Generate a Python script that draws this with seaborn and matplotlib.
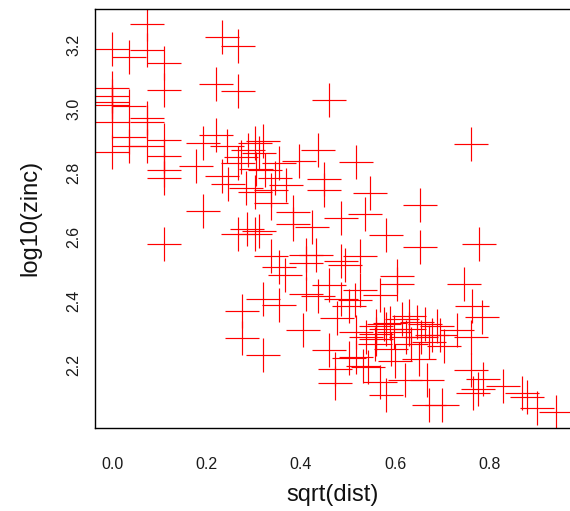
import matplotlib
matplotlib.use("Agg")
import matplotlib.pyplot as plt
import seaborn as sns
import pandas as pd

sqrt_dist = [
    0.073, 0.000, 0.036, 0.073, 0.110, 0.232, 0.266, 0.219, 0.266, 0.110,
    0.460, 0.000, 0.000, 0.000, 0.000, 0.000, 0.000, 0.036, 0.036, 0.036,
    0.073, 0.073, 0.073, 0.110, 0.110, 0.110, 0.110, 0.110, 0.178, 0.193,
    0.193, 0.219, 0.243, 0.233, 0.245, 0.266, 0.272, 0.284, 0.303, 0.287,
    0.303, 0.320, 0.312, 0.323, 0.305, 0.353, 0.345, 0.369, 0.337, 0.337,
    0.397, 0.436, 0.448, 0.448, 0.516, 0.547, 0.383, 0.383, 0.424, 0.484,
    0.537, 0.581, 0.652, 0.652, 0.760, 0.777, 0.746, 0.266, 0.285, 0.303,
    0.312, 0.337, 0.353, 0.367, 0.410, 0.431, 0.411, 0.484, 0.494, 0.526,
    0.603, 0.603, 0.460, 0.320, 0.353, 0.275, 0.275, 0.320, 0.404, 0.411,
    0.436, 0.526, 0.486, 0.514, 0.477, 0.501, 0.567, 0.460, 0.473, 0.472,
    0.501, 0.543, 0.581, 0.567, 0.600, 0.621, 0.763, 0.785, 0.615, 0.588,
    0.560, 0.581, 0.517, 0.560, 0.655, 0.560, 0.672, 0.557, 0.703, 0.630,
    0.647, 0.664, 0.688, 0.731, 0.760, 0.538, 0.598, 0.623, 0.630, 0.679,
    0.516, 0.531, 0.668, 0.651, 0.760, 0.787, 0.775, 0.764, 0.829, 0.868,
    0.880, 0.901, 0.940, 0.672, 0.700, 0.577, 0.634, 0.592, 0.694,
]

log10_zinc = [
    3.265, 3.188, 3.163, 3.185, 3.143, 3.225, 3.198, 3.077, 3.057, 3.059,
    3.027, 3.067, 3.040, 3.023, 3.014, 2.958, 2.867, 3.009, 2.912, 2.883,
    2.971, 2.959, 2.883, 2.904, 2.853, 2.809, 2.783, 2.579, 2.821, 2.894,
    2.682, 2.920, 2.884, 2.792, 2.766, 2.830, 2.849, 2.752, 2.741, 2.873,
    2.894, 2.899, 2.861, 2.810, 2.812, 2.832, 2.785, 2.761, 2.747, 2.707,
    2.837, 2.873, 2.780, 2.748, 2.834, 2.738, 2.679, 2.641, 2.631, 2.660,
    2.672, 2.607, 2.701, 2.568, 2.891, 2.579, 2.454, 2.610, 2.625, 2.610,
    2.619, 2.542, 2.507, 2.481, 2.545, 2.544, 2.519, 2.526, 2.511, 2.540,
    2.477, 2.454, 2.451, 2.407, 2.387, 2.369, 2.284, 2.230, 2.310, 2.423,
    2.416, 2.433, 2.405, 2.402, 2.346, 2.385, 2.418, 2.248, 2.189, 2.143,
    2.223, 2.195, 2.106, 2.148, 2.212, 2.154, 2.385, 2.350, 2.344, 2.332,
    2.321, 2.313, 2.302, 2.297, 2.287, 2.282, 2.273, 2.266, 2.259, 2.354,
    2.334, 2.329, 2.321, 2.310, 2.287, 2.288, 2.303, 2.288, 2.313, 2.294,
    2.224, 2.197, 2.153, 2.219, 2.185, 2.157, 2.125, 2.111, 2.133, 2.114,
    2.100, 2.067, 2.052, 2.075, 2.075, 2.327, 2.266, 2.250, 2.294,
]

x_ticks = [0.0, 0.2, 0.4, 0.6, 0.8]
y_ticks = [2.2, 2.4, 2.6, 2.8, 3.0, 3.2]

df = pd.DataFrame({"sqrt(dist)": sqrt_dist, "log10(zinc)": log10_zinc})

sns.set_style("white")
plt.rcParams["font.family"] = ["Liberation Sans", "DejaVu Sans"]

fig = plt.figure(figsize=(5.70, 5.11), dpi=100)
ax = fig.add_axes([94.7 / 570, 1 - 427.7 / 511, 1 - 94.7 / 570, (427.7 - 9) / 511])

sns.scatterplot(data=df, x="sqrt(dist)", y="log10(zinc)", ax=ax,
                marker="+", s=24 ** 2, color="#ff0000", linewidth=0.85,
                legend=False)

ax.set_xlim(-0.0373, 0.9707)
ax.set_ylim(2.004, 3.3125)
ax.set_xticks(x_ticks)
ax.set_xticklabels([f"{v:.1f}" for v in x_ticks])
ax.set_yticks(y_ticks)
ax.set_yticklabels([f"{v:.1f}" for v in y_ticks], rotation=90, va="center")

for side in ["left", "bottom", "top"]:
    ax.spines[side].set_color("black")
    ax.spines[side].set_linewidth(1.0)
ax.spines["right"].set_visible(False)

ax.tick_params(axis="both", which="both", direction="out", length=6,
               width=0.9, color="black", labelsize=11.5, labelcolor="#1a1a1a")
ax.tick_params(axis="x", pad=15)
ax.tick_params(axis="y", pad=3.5)

ax.set_xlabel("sqrt(dist)", fontsize=17, labelpad=9, color="#111111")
ax.set_ylabel("log10(zinc)", fontsize=17, labelpad=18, color="#111111")

fig.savefig("out.png", dpi=100)
